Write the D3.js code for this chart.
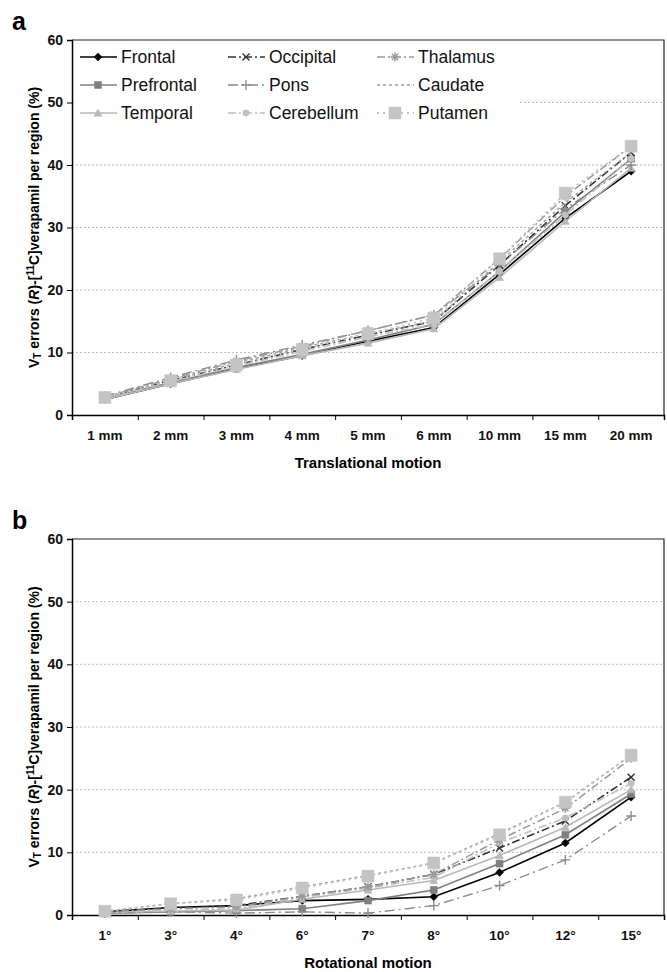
<!DOCTYPE html>
<html>
<head>
<meta charset="utf-8">
<script src="https://cdn.jsdelivr.net/npm/d3@7"></script>
<style>
  body { margin: 0; background: #fff; }
  svg { font-family: "Liberation Sans", Arial, sans-serif; }
  .tick text { font-weight: bold; }
</style>
</head>
<body>
<svg id="chart"></svg>
<script>
// categories
var transCats = ["1 mm", "2 mm", "3 mm", "4 mm", "5 mm", "6 mm", "10 mm", "15 mm", "20 mm"];
var rotCats = ["1°", "3°", "4°", "6°", "7°", "8°", "10°", "12°", "15°"];
var regions = ["Frontal", "Prefrontal", "Temporal", "Occipital", "Pons", "Cerebellum", "Thalamus", "Caudate", "Putamen"];
var yTicks = [0, 10, 20, 30, 40, 50, 60];

// translational motion (%), one array per region
var tFrontal    = [2.5, 5.0, 7.4, 9.5, 11.8, 14.0, 22.5, 31.5, 39.0];
var tPrefrontal = [2.6, 5.2, 7.6, 9.7, 12.0, 14.5, 23.0, 32.5, 41.0];
var tTemporal   = [2.5, 5.0, 7.3, 9.5, 11.5, 13.8, 22.0, 31.0, 39.5];
var tOccipital  = [2.7, 5.5, 8.0, 10.5, 12.8, 15.0, 24.0, 33.5, 42.0];
var tPons       = [3.0, 6.0, 8.8, 11.2, 13.5, 16.0, 24.0, 33.0, 40.0];
var tCerebellum = [2.6, 5.3, 7.8, 10.2, 12.5, 14.5, 23.0, 32.0, 41.0];
var tThalamus   = [2.9, 5.8, 8.6, 11.0, 13.5, 16.0, 25.0, 35.0, 43.0];
var tCaudate    = [2.8, 5.6, 8.3, 10.8, 13.0, 15.0, 24.5, 34.0, 42.0];
var tPutamen    = [2.8, 5.5, 8.0, 10.5, 13.0, 15.5, 25.0, 35.5, 43.0];

// rotational motion (%), one array per region
var rFrontal    = [0.5, 1.2, 1.5, 2.3, 2.5, 2.9, 6.8, 11.5, 18.8];
var rPrefrontal = [0.3, 0.5, 0.7, 1.0, 2.3, 4.0, 8.2, 12.8, 19.3];
var rTemporal   = [0.4, 0.6, 0.8, 2.5, 4.0, 5.5, 9.5, 14.0, 20.0];
var rOccipital  = [0.6, 1.0, 1.5, 3.0, 4.5, 6.5, 10.7, 15.0, 22.0];
var rPons       = [0.3, 0.5, 0.3, 0.5, 0.3, 1.5, 4.7, 8.8, 15.8];
var rCerebellum = [0.4, 0.7, 1.0, 2.8, 4.3, 6.0, 11.5, 15.5, 21.0];
var rThalamus   = [0.5, 1.0, 1.3, 3.0, 4.5, 6.5, 12.0, 17.0, 25.0];
var rCaudate    = [0.6, 1.8, 2.6, 4.5, 6.3, 8.3, 13.0, 18.0, 25.5];
var rPutamen    = [0.6, 1.8, 2.4, 4.3, 6.2, 8.3, 12.8, 18.0, 25.5];

var transData = [tFrontal, tPrefrontal, tTemporal, tOccipital, tPons, tCerebellum, tThalamus, tCaudate, tPutamen];
var rotData = [rFrontal, rPrefrontal, rTemporal, rOccipital, rPons, rCerebellum, rThalamus, rCaudate, rPutamen];

// line look per region
var styles = [
  {color: "#000", dash: null, marker: "diamond", size: 4, width: 1.6},
  {color: "#7f7f7f", dash: null, marker: "square", size: 3.5, width: 1.6},
  {color: "#b8b8b8", dash: null, marker: "triangle", size: 4, width: 1.6},
  {color: "#333", dash: "8,3,2,3", marker: "x", size: 3.5, width: 1.6},
  {color: "#8c8c8c", dash: "10,4,2,4", marker: "plus", size: 5, width: 1.4},
  {color: "#c0c0c0", dash: "8,3,2,3", marker: "circle", size: 3.2, width: 1.6},
  {color: "#9a9a9a", dash: "8,3,2,3", marker: "star", size: 4.5, width: 1.5},
  {color: "#a0a0a0", dash: "3,3", marker: null, size: 0, width: 1.5},
  {color: "#c4c4c4", dash: "2,4", marker: "bigsquare", size: 6, width: 1.8}
];

var w = 667, h = 972;
var svg = d3.select("#chart").attr("width", w).attr("height", h);

function markerPath(m, s) {
  if (m == "diamond") return "M0," + (-s) + "L" + s + ",0L0," + s + "L" + (-s) + ",0Z";
  if (m == "square" || m == "bigsquare") return "M" + (-s) + "," + (-s) + "h" + (2 * s) + "v" + (2 * s) + "h" + (-2 * s) + "Z";
  if (m == "triangle") return "M0," + (-s) + "L" + s + "," + (s * 0.8) + "L" + (-s) + "," + (s * 0.8) + "Z";
  if (m == "x") return "M" + (-s) + "," + (-s) + "L" + s + "," + s + "M" + (-s) + "," + s + "L" + s + "," + (-s);
  if (m == "plus") return "M" + (-s) + ",0H" + s + "M0," + (-s) + "V" + s;
  if (m == "star") return "M" + (-s) + ",0H" + s + "M0," + (-s) + "V" + s +
    "M" + (-s * 0.7) + "," + (-s * 0.7) + "L" + (s * 0.7) + "," + (s * 0.7) +
    "M" + (-s * 0.7) + "," + (s * 0.7) + "L" + (s * 0.7) + "," + (-s * 0.7);
  if (m == "circle") return d3.symbol(d3.symbolCircle, Math.PI * s * s)();
  return "";
}
function isStroke(m) { return m == "x" || m == "plus" || m == "star"; }

function drawMarker(g, st, x, y) {
  if (!st.marker) return;
  var p = g.append("path")
    .attr("d", markerPath(st.marker, st.size))
    .attr("transform", "translate(" + x + "," + y + ")");
  if (isStroke(st.marker)) {
    p.attr("fill", "none").attr("stroke", st.color).attr("stroke-width", 1.4);
  } else {
    p.attr("fill", st.color).attr("stroke", st.color).attr("stroke-width", 0.5);
  }
}

function panel(opts) {
  var left = 72, right = 664;
  var x = d3.scaleBand().domain(opts.cats).range([left, right]);
  var xEdge = d3.scaleLinear().domain([0, opts.cats.length]).range([left, right]);
  var y = d3.scaleLinear().domain([0, 60]).range([opts.bottom, opts.top]);
  var g = svg.append("g");

  // dotted gridlines
  g.selectAll(".grid")
    .data(yTicks.filter(function(d) { return d > 0 && d < 60; }))
    .enter().append("line")
    .attr("x1", left).attr("x2", right)
    .attr("y1", function(d) { return y(d); })
    .attr("y2", function(d) { return y(d); })
    .attr("stroke", "#bdbdbd").attr("stroke-width", 1)
    .attr("stroke-dasharray", "2,2");

  // frame top + right
  g.append("path")
    .attr("d", "M" + left + "," + opts.top + "H" + right + "V" + opts.bottom)
    .attr("fill", "none").attr("stroke", "#222").attr("stroke-width", 1.2);

  // axes
  g.append("g")
    .attr("transform", "translate(" + left + ",0)")
    .call(d3.axisLeft(y).tickValues(yTicks).tickSize(5).tickPadding(4))
    .call(function(a) {
      a.select(".domain").attr("stroke", "#000").attr("stroke-width", 1.5);
      a.selectAll("text").attr("font-size", 14).attr("fill", "#111");
    });

  g.append("g")
    .attr("transform", "translate(0," + opts.bottom + ")")
    .call(d3.axisBottom(xEdge).tickValues(d3.range(opts.cats.length + 1)).tickSize(5).tickFormat(""))
    .call(function(a) {
      a.select(".domain").attr("stroke", "#000").attr("stroke-width", 1.5);
    });

  g.append("g")
    .attr("transform", "translate(0," + opts.bottom + ")")
    .call(d3.axisBottom(x).tickSize(0).tickPadding(15))
    .call(function(a) {
      a.select(".domain").remove();
      a.selectAll("text").attr("font-size", 13.5).attr("fill", "#111");
    });

  // series
  var line = d3.line()
    .x(function(d, i) { return x(opts.cats[i]) + x.bandwidth() / 2; })
    .y(function(d) { return y(d); });

  opts.data.forEach(function(vals, k) {
    var st = styles[k];
    g.append("path")
      .attr("d", line(vals))
      .attr("fill", "none")
      .attr("stroke", st.color)
      .attr("stroke-width", st.width)
      .attr("stroke-dasharray", st.dash);
    vals.forEach(function(v, i) {
      drawMarker(g, st, x(opts.cats[i]) + x.bandwidth() / 2, y(v));
    });
  });

  // panel letter
  svg.append("text")
    .text(opts.letter)
    .attr("x", 12).attr("y", opts.top - 10)
    .attr("font-size", 25).attr("font-weight", "bold");

  // x title
  svg.append("text")
    .text(opts.xTitle)
    .attr("x", (left + right) / 2).attr("y", opts.bottom + 53)
    .attr("text-anchor", "middle")
    .attr("font-size", 15).attr("font-weight", "bold");

  // y title with sub/superscripts
  var yt = svg.append("text")
    .attr("transform", "translate(39," + (opts.top + opts.bottom) / 2 + ") rotate(-90)")
    .attr("text-anchor", "middle")
    .attr("font-size", 14).attr("font-weight", "bold");
  yt.append("tspan").text("V");
  yt.append("tspan").text("T").attr("font-size", 10).attr("dy", 2);
  yt.append("tspan").text(" errors (").attr("dy", -2);
  yt.append("tspan").text("R").attr("font-style", "italic");
  yt.append("tspan").text(")-[");
  yt.append("tspan").text("11").attr("font-size", 10).attr("dy", -5);
  yt.append("tspan").text("C]verapamil per region (%)").attr("dy", 5);

  return g;
}

panel({cats: transCats, data: transData, top: 40, bottom: 415,
  letter: "a", xTitle: "Translational motion"});
panel({cats: rotCats, data: rotData, top: 539, bottom: 915,
  letter: "b", xTitle: "Rotational motion"});

// legend in panel a
var legend = svg.append("g");
legend.append("rect")
  .attr("x", 74).attr("y", 42).attr("width", 444).attr("height", 84)
  .attr("fill", "#fff");
var colX = [80, 228, 377];
var rowY = [57, 85, 113];
regions.forEach(function(name, k) {
  var st = styles[k];
  var cx = colX[Math.floor(k / 3)], cy = rowY[k % 3];
  legend.append("line")
    .attr("x1", cx).attr("x2", cx + 37)
    .attr("y1", cy).attr("y2", cy)
    .attr("stroke", st.color).attr("stroke-width", st.width)
    .attr("stroke-dasharray", st.dash);
  drawMarker(legend, st, cx + 18, cy);
  legend.append("text")
    .text(name)
    .attr("x", cx + 41).attr("y", cy + 6)
    .attr("font-size", 17.5).attr("fill", "#111");
});
</script>
</body>
</html>
